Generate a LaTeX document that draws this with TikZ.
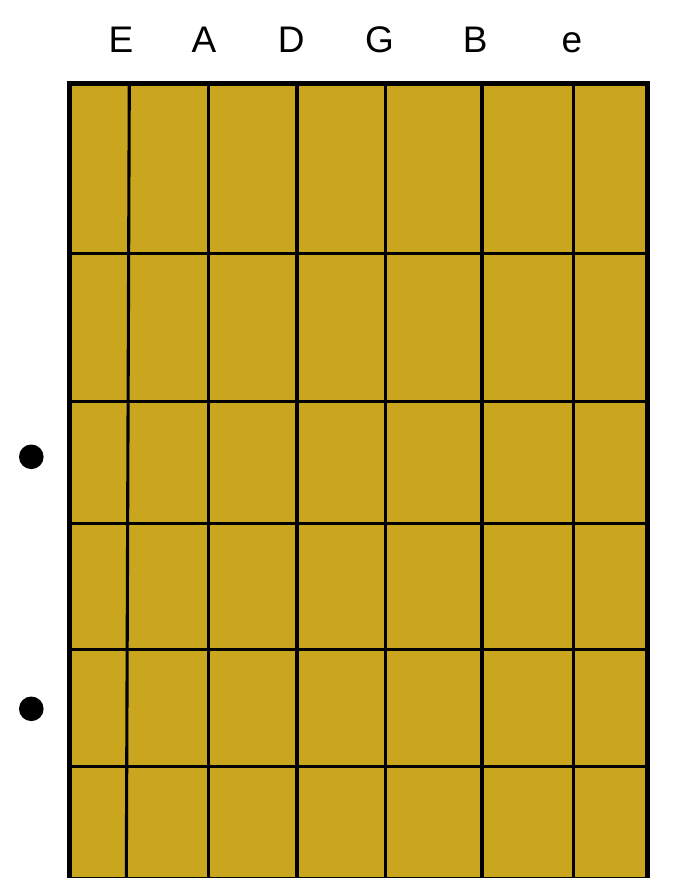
\documentclass[tikz,border=0pt]{standalone}
\usepackage{fontspec}
\setmainfont{Liberation Sans}
\definecolor{board}{RGB}{201,166,30}
\begin{document}
\begin{tikzpicture}[x=1pt,y=-1pt,
  grid/.style={line width=3.1pt,draw=black},
  outer/.style={line width=4.8pt,draw=black,fill=board},
  lbl/.style={font=\fontsize{37}{40}\selectfont,inner sep=0pt,anchor=center},
  dot/.style={circle,fill=black,minimum size=24.6pt,inner sep=0pt}]
\useasboundingbox (0,0) rectangle (694,878);
\begin{scope}
\clip (0,0) rectangle (694,878);
\draw[outer] (69.7,83.5) rectangle (647.5,879.5);
\foreach \y in {253.7,401.2,523.8,649.8,766.8}
  \draw[grid] (69.7,\y) -- (647.5,\y);
\draw[grid] (129.3,83.5) -- (126.3,879.5);
\foreach \x in {208.7,297,385.6,482,573.5}
  \draw[grid] (\x,83.5) -- (\x,879.5);
\draw[line width=4.8pt] (69.7,83.5) rectangle (647.5,879.5);
\end{scope}
\node[lbl] (sE) at (121,39.5) {E};
\node[lbl] (sA) at (204,39.5) {A};
\node[lbl] (sD) at (291.3,39.5) {D};
\node[lbl] (sG) at (379.5,39.5) {G};
\node[lbl] (sB) at (475.3,39.5) {B};
\node[lbl,anchor=base] (se) at (571.8,52.7) {e};
\node[dot] (d1) at (31.3,456.8) {};
\node[dot] (d2) at (31.3,708.8) {};
\end{tikzpicture}
\end{document}
